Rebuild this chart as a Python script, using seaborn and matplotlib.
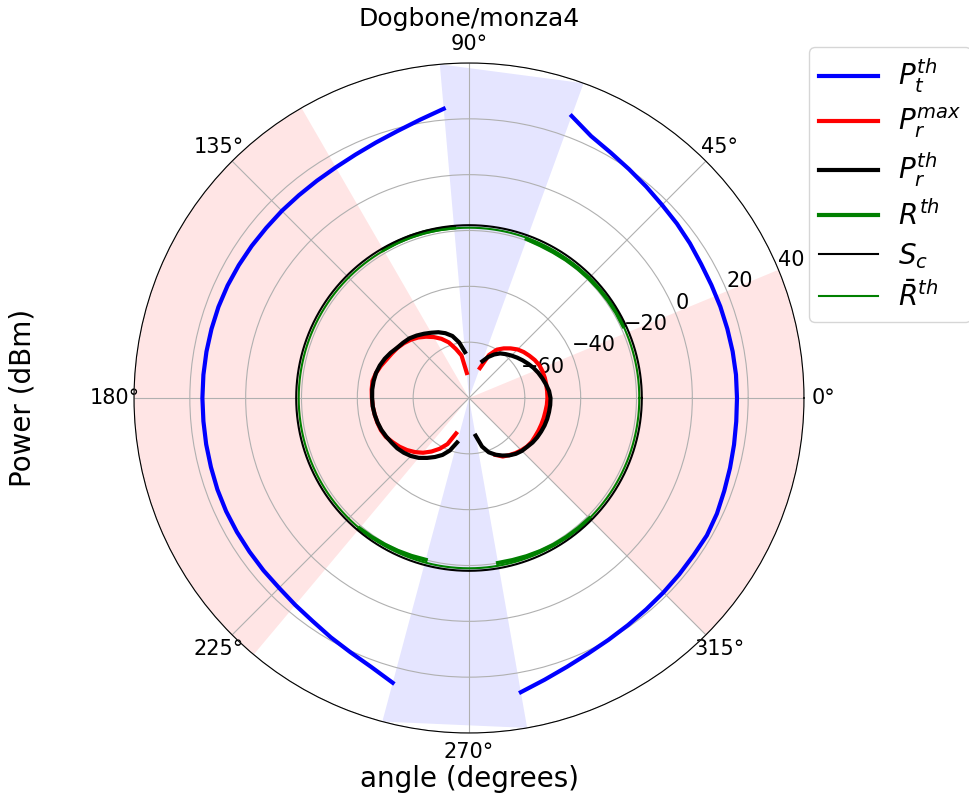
import numpy as np
import pandas as pd
import matplotlib
matplotlib.use("Agg")
import matplotlib.pyplot as plt
from matplotlib.lines import Line2D
import seaborn as sns

# ---- radial scale (dBm) -------------------------------------------------
R_MIN, R_MAX = -80, 40
r_ticks = [-60, -40, -20, 0, 20, 40]

# ---- threshold transmit power P_t^th (two arcs, gaps where undefined) ----
pt_angles_a = [-80, -75, -70, -65, -60, -55, -50, -45, -40, -35, -30, -25, -20,
               -15, -10, -5, 0, 5, 10, 15, 20, 25, 30, 35, 40, 45, 50, 55, 60,
               65, 70]
pt_values_a = [27.0, 24.5, 22.5, 21.0, 20.0, 19.3, 18.8, 18.5, 18.3, 18.2, 18.4,
               18.0, 17.3, 16.8, 16.4, 16.1, 16.0, 16.0, 15.9, 15.8, 15.8, 15.8,
               16.0, 16.6, 17.2, 17.8, 18.8, 20.0, 21.5, 23.5, 27.5]
pt_angles_b = [95, 100, 105, 110, 115, 120, 125, 130, 135, 140, 145, 150, 155,
               160, 165, 170, 175, 180, 185, 190, 195, 200, 205, 210, 215, 220,
               225, 230, 235, 240, 245, 250, 255]
pt_values_b = [24.0, 21.2, 19.0, 17.4, 16.2, 15.4, 15.0, 14.8, 14.8, 14.8, 15.0,
               15.2, 15.4, 15.5, 15.5, 15.5, 15.5, 15.5, 15.5, 15.6, 15.7, 15.9,
               16.0, 16.0, 16.0, 16.1, 16.2, 16.8, 17.6, 19.0, 20.5, 22.5, 25.6]

# ---- received power: maximum (P_r^max) and threshold (P_r^th) -----------
pr_right_angles = [-80, -75, -70, -65, -60, -55, -50, -45, -40, -35, -30, -25,
                   -20, -15, -10, -5, 0, 5, 10, 15, 20, 25, 30, 35, 40, 45, 50,
                   55, 60, 65, 70]
prth_right = [-66.3, -62.0, -59.3, -57.6, -56.2, -54.9, -53.9, -53.2, -52.8,
              -52.2, -51.8, -51.5, -51.2, -51.0, -50.9, -50.8, -50.8, -51.2,
              -52.0, -52.8, -53.6, -54.5, -55.5, -56.5, -57.5, -58.5, -59.5,
              -60.5, -62.0, -63.8, -66.0]
prmax_right_angles = [-65, -60, -55, -50, -45, -40, -35, -30, -25, -20, -15,
                      -10, -5, 0, 5, 10, 15, 20, 25, 30, 35, 40, 45, 50, 55,
                      60, 65, 70]
prmax_right = [-57.5, -55.8, -55.0, -54.2, -53.5, -52.9, -52.6, -52.6, -52.5,
               -52.4, -52.3, -52.2, -52.0, -51.9, -51.9, -51.9, -51.9, -52.0,
               -52.2, -52.8, -53.6, -54.4, -55.4, -56.8, -58.3, -60.0, -63.0,
               -68.6]
pr_left_angles = [95, 100, 105, 110, 115, 120, 125, 130, 135, 140, 145, 150,
                  155, 160, 165, 170, 175, 180, 185, 190, 195, 200, 205, 210,
                  215, 220, 225, 230, 235, 240, 245, 250, 255]
prth_left = [-63.5, -59.8, -57.0, -55.3, -54.0, -53.0, -51.9, -50.8, -49.8,
             -49.2, -48.6, -47.6, -46.7, -46.0, -45.5, -45.3, -45.2, -45.3,
             -45.4, -45.7, -46.1, -46.6, -47.3, -48.0, -48.6, -49.5, -50.6,
             -52.0, -53.8, -55.6, -57.5, -60.0, -63.5]
prmax_left_angles = [95, 100, 105, 110, 115, 120, 125, 130, 135, 140, 145, 150,
                     155, 160, 165, 170, 175, 180, 185, 190, 195, 200, 205, 210,
                     215, 220, 225, 230, 235, 240, 245, 250]
prmax_left = [-71.0, -64.5, -61.8, -58.8, -56.6, -54.8, -53.2, -51.7, -50.5,
              -49.5, -48.7, -48.1, -47.4, -46.4, -45.5, -44.9, -45.0, -45.2,
              -45.4, -45.7, -46.0, -46.4, -47.1, -48.4, -49.6, -51.0, -52.6,
              -54.4, -56.6, -59.0, -61.8, -66.5]

# ---- threshold read level R^th (defined only on four sectors) -----------
rth_segments = [
    ([25, 30, 35, 40, 45, 50, 55, 60, 65, 70],
     [-19.0, -19.0, -19.1, -19.2, -19.3, -19.4, -19.5, -19.6, -19.6, -19.4]),
    ([95, 100, 105, 110, 115, 120],
     [-18.7, -18.6, -18.5, -18.5, -18.6, -18.7]),
    ([230, 235, 240, 245, 250, 255],
     [-19.0, -19.2, -19.4, -19.6, -19.8, -20.0]),
    ([280, 285, 290, 295, 300, 305, 310, 315],
     [-20.0, -19.9, -19.7, -19.5, -19.3, -19.2, -19.1, -19.0]),
]

# chip sensitivity and mean threshold level (constant circles)
sc_dbm = -18.1
rth_mean_dbm = -19.0

# shaded sectors (degrees)
red_sectors = [(-45, 22.5), (120, 230)]
blue_sectors = [(70, 95), (255, 280)]


def polar_line(ax, angles_deg, values, color, lw):
    df = pd.DataFrame({"theta": np.deg2rad(np.asarray(angles_deg, float)),
                       "power": values})
    sns.lineplot(data=df, x="theta", y="power", sort=False, estimator=None,
                 color=color, linewidth=lw, ax=ax, legend=False)


fig = plt.figure(figsize=(9.69, 7.98), dpi=100)
ax = fig.add_axes([134 / 969, 65 / 798, 670 / 969, 670 / 798],
                  projection="polar")

# sectors: red ones follow the rim, blue ones are plain triangles
for a0, a1 in red_sectors:
    th = np.deg2rad(np.linspace(a0, a1, 80))
    ax.fill(np.concatenate([[0.0], th]),
            np.concatenate([[R_MIN], np.full(th.size, R_MAX)]),
            color="red", alpha=0.1, linewidth=0)
for a0, a1 in blue_sectors:
    ax.fill(np.deg2rad([0.0, a0, a1]), [R_MIN, R_MAX, R_MAX],
            color="blue", alpha=0.1, linewidth=0)

polar_line(ax, pt_angles_a, pt_values_a, "blue", 3)
polar_line(ax, pt_angles_b, pt_values_b, "blue", 3)
polar_line(ax, prmax_right_angles, prmax_right, "red", 3)
polar_line(ax, prmax_left_angles, prmax_left, "red", 3)
polar_line(ax, pr_right_angles, prth_right, "black", 3)
polar_line(ax, pr_left_angles, prth_left, "black", 3)
for seg_angles, seg_values in rth_segments:
    polar_line(ax, seg_angles, seg_values, "green", 3)

full_circle = np.arange(0, 361, 2)
polar_line(ax, full_circle, [sc_dbm] * full_circle.size, "black", 1.5)
polar_line(ax, full_circle, [rth_mean_dbm] * full_circle.size, "green", 1.5)

ax.set_ylim(R_MIN, R_MAX)
ax.set_yticks(r_ticks)
ax.tick_params(labelsize=15)
ax.grid(True)

ax.set_title("Dogbone/monza4", fontsize=18, y=1.055, pad=0)
ax.set_xlabel("angle (degrees)", fontsize=20)
ax.xaxis.set_label_coords(0.5, -0.048)
ax.set_ylabel("Power (dBm)", fontsize=20)
ax.yaxis.set_label_coords(-0.146, 0.5)

handles = [
    Line2D([], [], color="blue", lw=3),
    Line2D([], [], color="red", lw=3),
    Line2D([], [], color="black", lw=3),
    Line2D([], [], color="green", lw=3),
    Line2D([], [], color="black", lw=1.5),
    Line2D([], [], color="green", lw=1.5),
]
labels = [r"$P_t^{th}$", r"$P_r^{max}$", r"$P_r^{th}$", r"$R^{th}$",
          r"$S_c$", r"$\bar{R}^{th}$"]
fig.legend(handles, labels, loc="upper left",
           bbox_to_anchor=(809 / 969, 1 - 47 / 798),
           bbox_transform=fig.transFigure, borderaxespad=0,
           fontsize=20, handlelength=2.15, labelspacing=0.38,
           borderpad=0.35, handletextpad=0.7)

fig.savefig("out.png", dpi=100)
